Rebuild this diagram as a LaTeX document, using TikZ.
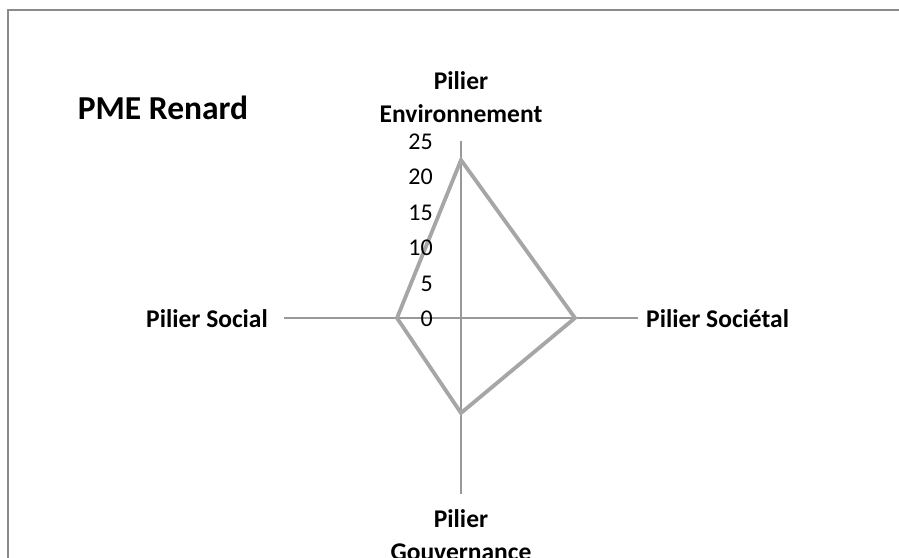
\documentclass[tikz,border=0pt]{standalone}
\usepackage{fontspec}
\setmainfont{Carlito}
\tikzset{
  frame/.style={draw=black!46, line width=2.5pt},
  axisline/.style={draw=black!40, line width=1.3pt},
  series/.style={draw=black!35, line width=3.8pt, line join=miter},
  catlabel/.style={font=\fontsize{25.5}{33}\selectfont\bfseries, inner sep=0pt, align=center},
  ticklabel/.style={font=\fontsize{24}{28}\selectfont, inner sep=0pt, anchor=base east},
  titlelabel/.style={font=\fontsize{33.5}{38}\selectfont\bfseries, inner sep=0pt, anchor=base}
}
\begin{document}
\begin{tikzpicture}[x=1pt,y=-1pt]
\useasboundingbox (0,0) rectangle (899,557);
\fill[white] (0,0) rectangle (899,557);
\begin{scope}
\clip (0,0) rectangle (899,557);
\draw[frame] (8,700) -- (8,10) -- (1000,10);
\coordinate (O) at (461,318);
\coordinate (AT) at (461,141);
\coordinate (AB) at (461,494);
\coordinate (AL) at (284,318);
\coordinate (AR) at (638,318);
\draw[axisline] (AL) -- (AR);
\draw[axisline] (AT) -- (AB);
\coordinate (DE) at (461,160);
\coordinate (DS) at (575,318);
\coordinate (DG) at (461,413);
\coordinate (DL) at (397,318);
\draw[series] (DE) -- (DS) -- (DG) -- (DL) -- cycle;
\foreach \v/\k in {0/0,5/1,10/2,15/3,20/4,25/5}{
  \node[ticklabel] (t\v) at (433,326.5-35.4*\k) {\v};
}
\node[titlelabel] (title) at (163,119) {PME Renard};
\node[catlabel, anchor=base] (lenv) at (461,122) {Pilier\\Environnement};
\node[catlabel, anchor=base east] (lsoc) at (268,327) {Pilier Social};
\node[catlabel, anchor=base west] (lsct) at (646,327) {Pilier Sociétal};
\node[catlabel, anchor=base] (lgov) at (461,560) {Pilier\\Gouvernance};
\end{scope}
\end{tikzpicture}
\end{document}
